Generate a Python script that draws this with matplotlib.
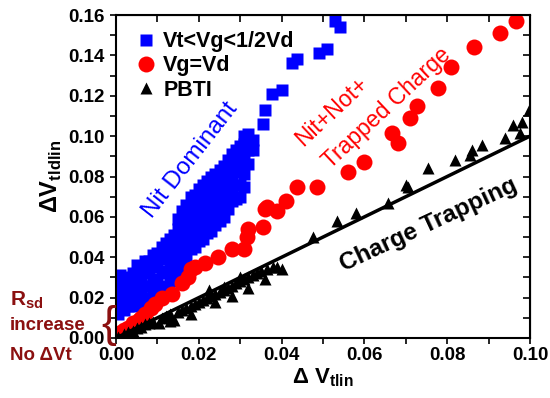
import numpy as np
import matplotlib
matplotlib.use("Agg")
import matplotlib.pyplot as plt

plt.rcParams['font.family'] = ['Liberation Sans', 'DejaVu Sans']
plt.rcParams['mathtext.fontset'] = 'custom'
plt.rcParams['mathtext.rm'] = 'Liberation Sans:bold'
plt.rcParams['mathtext.bf'] = 'Liberation Sans:bold'

# Vt<Vg<1/2Vd (blue squares)
nit_x = [0.0005, 0.0005, 0.0005, 0.0005, 0.001, 0.001, 0.001, 0.001,
         0.002, 0.002, 0.002, 0.002, 0.003, 0.003, 0.003,
         0.004, 0.004, 0.004, 0.004, 0.005, 0.005, 0.005, 0.005,
         0.006, 0.006, 0.006, 0.006, 0.007, 0.007, 0.007, 0.007,
         0.008, 0.008, 0.008, 0.008, 0.009, 0.009, 0.009, 0.009,
         0.010, 0.010, 0.010, 0.010, 0.011, 0.011, 0.011, 0.011,
         0.012, 0.012, 0.012, 0.012, 0.013, 0.013, 0.013, 0.013,
         0.014, 0.014, 0.014, 0.014, 0.015, 0.015, 0.015, 0.015, 0.015,
         0.016, 0.016, 0.016, 0.016, 0.016, 0.017, 0.017, 0.017, 0.017, 0.017,
         0.018, 0.018, 0.018, 0.018, 0.018, 0.019, 0.019, 0.019, 0.019, 0.019,
         0.020, 0.020, 0.020, 0.020, 0.020, 0.021, 0.021, 0.021, 0.021, 0.021,
         0.022, 0.022, 0.022, 0.022, 0.022, 0.023, 0.023, 0.023, 0.023, 0.023,
         0.024, 0.024, 0.024, 0.024, 0.024, 0.025, 0.025, 0.025, 0.025, 0.025,
         0.026, 0.026, 0.026, 0.026, 0.026, 0.027, 0.027, 0.027, 0.027, 0.027,
         0.028, 0.028, 0.028, 0.028, 0.028, 0.029, 0.029, 0.029, 0.029, 0.029,
         0.030, 0.030, 0.030, 0.030, 0.030, 0.031, 0.031, 0.031, 0.031, 0.031,
         0.032, 0.032, 0.032, 0.033, 0.033,
         0.0355, 0.036, 0.0377, 0.040, 0.0425, 0.0437, 0.049, 0.051, 0.053, 0.054]
nit_y = [0.012, 0.017, 0.022, 0.027, 0.015, 0.020, 0.025, 0.031,
         0.014, 0.019, 0.025, 0.030, 0.016, 0.022, 0.028,
         0.016, 0.021, 0.027, 0.032, 0.017, 0.024, 0.030, 0.036,
         0.018, 0.023, 0.029, 0.035, 0.019, 0.026, 0.033, 0.038,
         0.020, 0.026, 0.032, 0.038, 0.022, 0.028, 0.035, 0.041,
         0.023, 0.029, 0.036, 0.042, 0.025, 0.032, 0.039, 0.045,
         0.026, 0.033, 0.040, 0.047, 0.028, 0.035, 0.042, 0.049,
         0.030, 0.037, 0.044, 0.051, 0.033, 0.040, 0.047, 0.054, 0.059,
         0.036, 0.043, 0.050, 0.057, 0.063, 0.039, 0.046, 0.053, 0.060, 0.066,
         0.044, 0.050, 0.056, 0.063, 0.070, 0.045, 0.051, 0.058, 0.065, 0.071,
         0.048, 0.054, 0.060, 0.067, 0.074, 0.049, 0.056, 0.062, 0.069, 0.076,
         0.052, 0.058, 0.065, 0.072, 0.078, 0.053, 0.060, 0.067, 0.074, 0.080,
         0.056, 0.062, 0.069, 0.076, 0.081, 0.058, 0.064, 0.071, 0.078, 0.083,
         0.060, 0.066, 0.073, 0.080, 0.085, 0.064, 0.070, 0.077, 0.083, 0.088,
         0.068, 0.074, 0.080, 0.086, 0.091, 0.069, 0.076, 0.082, 0.088, 0.093,
         0.070, 0.076, 0.083, 0.090, 0.095, 0.075, 0.081, 0.088, 0.096, 0.100,
         0.086, 0.093, 0.101, 0.093, 0.098,
         0.106, 0.113, 0.121, 0.123, 0.136, 0.138, 0.141, 0.143, 0.157, 0.154]

# Vg=Vd (red circles)
vgvd_x = [0.0007, 0.001, 0.002, 0.003, 0.004, 0.0055, 0.006, 0.007, 0.0085, 0.0094,
          0.011, 0.0135, 0.016, 0.0174, 0.018, 0.019, 0.0215, 0.0246, 0.028, 0.031,
          0.0316, 0.032, 0.0355, 0.036, 0.0365, 0.039, 0.041, 0.0437, 0.0485, 0.056,
          0.060, 0.0667, 0.068, 0.071, 0.0727, 0.0778, 0.081, 0.0865, 0.0928, 0.0966]
vgvd_y = [0.0025, 0.002, 0.004, 0.005, 0.0074, 0.009, 0.010, 0.012, 0.015, 0.017,
          0.020, 0.022, 0.027, 0.030, 0.034, 0.035, 0.037, 0.040, 0.044, 0.044,
          0.050, 0.054, 0.055, 0.064, 0.065, 0.063, 0.068, 0.075, 0.075, 0.082,
          0.087, 0.1015, 0.0965, 0.109, 0.115, 0.124, 0.134, 0.144, 0.151, 0.157]

# PBTI (black triangles)
pbti_x = [0.0005, 0.002, 0.003, 0.004, 0.005, 0.006, 0.007, 0.008, 0.009, 0.0104,
          0.011, 0.012, 0.013, 0.013, 0.014, 0.015, 0.016, 0.017, 0.018, 0.018,
          0.019, 0.020, 0.021, 0.022, 0.0225, 0.023, 0.024, 0.024, 0.025, 0.026,
          0.026, 0.027, 0.028, 0.028, 0.029, 0.030, 0.030, 0.031, 0.032, 0.032,
          0.033, 0.034, 0.035, 0.036, 0.0365, 0.038, 0.039, 0.040,
          0.0476, 0.0534, 0.058, 0.0657, 0.070, 0.0705, 0.0754, 0.082, 0.0855, 0.086,
          0.0884, 0.094, 0.096, 0.0976, 0.098, 0.0998]
pbti_y = [0.0005, 0.002, 0.003, 0.0035, 0.005, 0.0055, 0.007, 0.0075, 0.008, 0.0074,
          0.010, 0.011, 0.012, 0.0085, 0.009, 0.013, 0.014, 0.015, 0.016, 0.012,
          0.017, 0.018, 0.019, 0.020, 0.024, 0.021, 0.022, 0.018, 0.023, 0.024,
          0.0255, 0.025, 0.026, 0.021, 0.027, 0.028, 0.030, 0.029, 0.030, 0.025,
          0.031, 0.032, 0.033, 0.029, 0.034, 0.035, 0.035, 0.034,
          0.050, 0.058, 0.062, 0.067, 0.076, 0.075, 0.084, 0.088, 0.0906, 0.093,
          0.0956, 0.099, 0.1055, 0.1015, 0.107, 0.113]

fit_x = [0.0, 0.1]
fit_y = [0.0, 0.1]

maroon = '#8b1010'

fig = plt.figure(figsize=(5.5, 3.98), dpi=100)
ax = fig.add_axes([116/550, 1 - 338/398, 414/550, 323/398])

ax.plot(nit_x, nit_y, 's', color='#0000ff', ms=9, mec='none', label='Vt<Vg<1/2Vd')
ax.plot(vgvd_x, vgvd_y, 'o', color='#ff0000', ms=11.5, mec='none', label='Vg=Vd')
ax.plot(pbti_x, pbti_y, '^', color='black', ms=8.5, mec='none', label='PBTI')
ax.plot(fit_x, fit_y, '-', color='black', lw=2.5)

ax.set_xlim(0, 0.1)
ax.set_ylim(0, 0.16)
ax.set_xticks(np.arange(0, 0.101, 0.02))
ax.set_yticks(np.arange(0, 0.161, 0.02))
ax.set_xticks(np.arange(0, 0.101, 0.01), minor=True)
ax.set_yticks(np.arange(0, 0.161, 0.01), minor=True)
ax.xaxis.set_major_formatter(plt.FormatStrFormatter('%.2f'))
ax.yaxis.set_major_formatter(plt.FormatStrFormatter('%.2f'))
for lab in ax.get_xticklabels() + ax.get_yticklabels():
    lab.set_fontweight('bold')
    lab.set_fontsize(13.5)
ax.tick_params(which='both', direction='out', top=False, right=False, width=1.2,
               length=4.5, pad=2)
ax.tick_params(axis='y', which='both', pad=3.5)
for s in ax.spines.values():
    s.set_linewidth(1.5)

# mirrored inward ticks on top/right
axt = ax.secondary_xaxis('top')
axt.set_xticks(np.arange(0, 0.101, 0.01))
axt.tick_params(direction='in', length=5, width=1.2, labeltop=False)
axr = ax.secondary_yaxis('right')
axr.set_yticks(np.arange(0, 0.161, 0.01))
axr.tick_params(direction='in', length=5, width=1.2, labelright=False)

ax.set_xlabel('Δ V$_{\\rm tlin}$', fontsize=16, fontweight='bold', labelpad=2)
ax.set_ylabel('ΔV$_{\\rm tldlin}$', fontsize=17, fontweight='bold', labelpad=3)

leg = ax.legend(loc='upper left', bbox_to_anchor=(0.01, 0.99), frameon=False,
                prop={'weight': 'bold', 'size': 15.5}, handletextpad=0.2,
                labelspacing=0.15, borderaxespad=0.2, handlelength=1.2)

ax.text(0.0179, 0.088, 'Nit Dominant', color='#0000ff', fontsize=17.5,
        rotation=52, ha='center', va='center')
ax.text(0.052, 0.112, 'Nit+Not+', color='#ff0000', fontsize=16.5,
        rotation=43, ha='center', va='center')
ax.text(0.0655, 0.114, 'Trapped Charge', color='#ff0000', fontsize=16.5,
        rotation=43, ha='center', va='center')
ax.text(0.0755, 0.056, 'Charge Trapping', color='black', fontsize=17.5,
        fontweight='bold', rotation=25, ha='center', va='center')

fig.text(10/550, 1 - 300/398, 'R$_{\\rm sd}$', color=maroon, fontsize=15,
         fontweight='bold', va='center')
fig.text(10/550, 1 - 326/398, 'increase', color=maroon, fontsize=13.5,
         fontweight='bold', va='center')
fig.text(10/550, 1 - 356/398, 'No ΔVt', color=maroon, fontsize=13.5,
         fontweight='bold', va='center')
fig.text(109/550, 1 - 326/398, '{', color=maroon, fontsize=32,
         ha='center', va='center')

fig.savefig('out.png', dpi=100)
